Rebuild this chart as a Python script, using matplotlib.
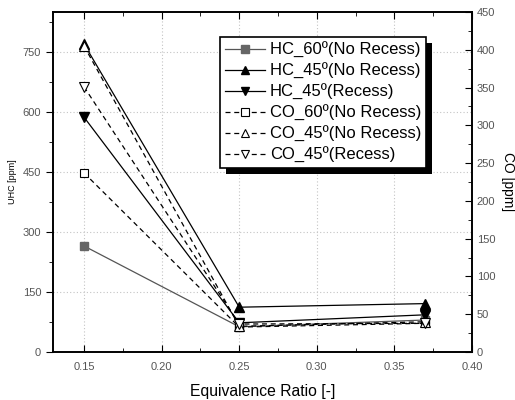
import matplotlib
matplotlib.use("Agg")
import matplotlib.pyplot as plt
from matplotlib.patches import Rectangle
from matplotlib.ticker import MultipleLocator

plt.rcParams['font.family'] = ['Liberation Sans', 'DejaVu Sans']

# data
phi = [0.15, 0.25, 0.37]
hc_60_nr = [265, 63, 80]
hc_45_nr = [770, 112, 121]
hc_45_r = [587, 73, 93]
co_60_nr = [237, 33, 38]
co_45_nr = [405, 34, 40]
co_45_r = [351, 37, 38]

fig = plt.figure(figsize=(5.15, 4.0), dpi=100)
ax = fig.add_axes([53/515, 48/400, 419/515, 340/400])
ax2 = ax.twinx()

tick_grey = '#555555'

l1, = ax.plot(phi, hc_60_nr, color='#555555', lw=0.9, marker='s', ms=6,
              mfc='#666666', mec='#666666', label='HC_60º(No Recess)')
l2, = ax.plot(phi, hc_45_nr, color='black', lw=0.9, marker='^', ms=7,
              mfc='black', label='HC_45º(No Recess)')
l3, = ax.plot(phi, hc_45_r, color='black', lw=0.9, marker='v', ms=7,
              mfc='black', label='HC_45º(Recess)')
l4, = ax2.plot(phi, co_60_nr, color='black', lw=0.9, ls=(0, (4, 3)), marker='s', ms=6,
               mfc='white', mec='black', mew=0.8, label='CO_60º(No Recess)')
l5, = ax2.plot(phi, co_45_nr, color='black', lw=0.9, ls=(0, (4, 3)), marker='^', ms=7,
               mfc='white', mec='black', mew=0.8, label='CO_45º(No Recess)')
l6, = ax2.plot(phi, co_45_r, color='black', lw=0.9, ls=(0, (4, 3)), marker='v', ms=7,
               mfc='white', mec='black', mew=0.8, label='CO_45º(Recess)')

ax.set_xlim(0.13, 0.40)
ax.set_ylim(0, 850)
ax2.set_ylim(0, 450)

ax.xaxis.set_major_locator(MultipleLocator(0.05))
ax.xaxis.set_minor_locator(MultipleLocator(0.025))
ax.yaxis.set_major_locator(MultipleLocator(150))
ax.yaxis.set_minor_locator(MultipleLocator(75))
ax2.yaxis.set_major_locator(MultipleLocator(50))
ax2.yaxis.set_minor_locator(MultipleLocator(25))
ax.xaxis.set_major_formatter(matplotlib.ticker.FormatStrFormatter('%.2f'))

ax.grid(True, which='major', color='#c4c4c4', ls=(0, (1, 2)), lw=0.8)

ax.tick_params(axis='x', which='both', direction='in', top=True,
               labelsize=8, labelcolor=tick_grey, pad=7)
ax.tick_params(axis='x', which='major', length=5)
ax.tick_params(axis='x', which='minor', length=3)
ax.tick_params(axis='y', which='both', direction='out', labelsize=8, labelcolor=tick_grey)
ax.tick_params(axis='y', which='major', length=5)
ax.tick_params(axis='y', which='minor', length=3)
ax2.tick_params(axis='y', which='both', direction='in', labelsize=8, labelcolor=tick_grey)
ax2.tick_params(axis='y', which='major', length=5)
ax2.tick_params(axis='y', which='minor', length=3)

for a in (ax, ax2):
    for s in a.spines.values():
        s.set_linewidth(1.2)

ax.set_xlabel('Equivalence Ratio [-]', fontsize=11.3, labelpad=9)
ax.set_ylabel('UHC [ppm]', fontsize=6.5, labelpad=4)
ax2.set_ylabel('CO [ppm]', fontsize=10, rotation=270, labelpad=14)

leg = ax2.legend(handles=[l1, l2, l3, l4, l5, l6], loc='upper left',
                 bbox_to_anchor=(220/515, 1 - 37/400), bbox_transform=fig.transFigure,
                 fontsize=12, fancybox=False, framealpha=1, edgecolor='black',
                 handlelength=2.4, labelspacing=0.3, borderpad=0.3,
                 handletextpad=0.3, borderaxespad=0, markerscale=0.85)
leg.get_frame().set_linewidth(1.2)
leg.set_zorder(10)

fig.canvas.draw()
bb = leg.get_window_extent().transformed(fig.transFigure.inverted())
shadow = Rectangle((bb.x0 + 6/515, bb.y0 - 6/400), bb.width, bb.height,
                   transform=fig.transFigure, facecolor='black', edgecolor='none',
                   zorder=9, clip_on=False)
ax2.add_patch(shadow)

fig.savefig('out.png', dpi=100)
